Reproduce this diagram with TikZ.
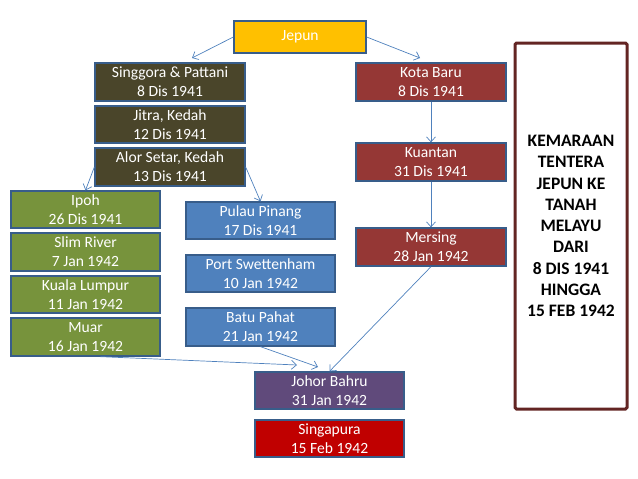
\documentclass[tikz,border=0pt]{standalone}
\usepackage{fontspec}
\setmainfont{Carlito}
\usetikzlibrary{arrows.meta}
\definecolor{cgold}{HTML}{FFC000}
\definecolor{colive}{HTML}{4A452A}
\definecolor{cred}{HTML}{953735}
\definecolor{cgreen}{HTML}{77933C}
\definecolor{cblue}{HTML}{4F81BD}
\definecolor{cpurple}{HTML}{604A7B}
\definecolor{csinga}{HTML}{C00000}
\definecolor{cborder}{HTML}{385D8A}
\definecolor{cbig}{HTML}{632523}
\definecolor{carrow}{HTML}{4F81BD}
\tikzset{
  box/.style={draw=cborder, line width=1.3pt, text=white, align=center,
    inner sep=0pt, font=\fontsize{15.6}{19}\selectfont},
  bw/.style={minimum width=150pt, minimum height=38pt},
  conn/.style={draw=carrow, line width=0.7pt, -{Straight Barb[length=5pt,width=9pt]}},
}
\begin{document}
\begin{tikzpicture}[x=1pt,y=-1pt]
\useasboundingbox (0,0) rectangle (638,479);
\node[box, fill=cgold, minimum width=132pt, minimum height=32pt] (jepun) at (300,37) {Jepun};
\node[box, bw, fill=colive] (sing) at (170,82) {Singgora \& Pattani\\8 Dis 1941};
\node[box, bw, fill=colive, minimum height=37pt] (jitra) at (170,124.5) {Jitra, Kedah\\12 Dis 1941};
\node[box, bw, fill=colive] (alor) at (170,167) {Alor Setar, Kedah\\13 Dis 1941};
\node[box, bw, fill=cred] (kota) at (431,82) {Kota Baru\\8 Dis 1941};
\node[box, bw, fill=cred] (kuantan) at (431,162) {Kuantan\\31 Dis 1941};
\node[box, bw, fill=cred] (mersing) at (431,247) {Mersing\\28 Jan 1942};
\node[box, bw, fill=cgreen, minimum width=149pt, minimum height=37pt] (ipoh) at (85.5,209.5) {Ipoh\\26 Dis 1941};
\node[box, bw, fill=cgreen, minimum width=149pt] (slim) at (85.5,252) {Slim River\\7 Jan 1942};
\node[box, bw, fill=cgreen, minimum width=149pt, minimum height=37pt] (kl) at (85.5,294.5) {Kuala Lumpur\\11 Jan 1942};
\node[box, bw, fill=cgreen, minimum width=149pt] (muar) at (85.5,337) {Muar\\16 Jan 1942};
\node[box, bw, fill=cblue, minimum width=149pt, minimum height=37pt] (pinang) at (260.5,220.5) {Pulau Pinang\\17 Dis 1941};
\node[box, bw, fill=cblue, minimum width=149pt, minimum height=37pt] (port) at (260.5,273.5) {Port Swettenham\\10 Jan 1942};
\node[box, bw, fill=cblue, minimum width=149pt] (batu) at (260.5,327) {Batu Pahat\\21 Jan 1942};
\node[box, bw, fill=cpurple, minimum width=149pt, minimum height=37pt] (johor) at (329.5,390.5) {Johor Bahru\\31 Jan 1942};
\node[box, bw, fill=csinga, minimum width=149pt, minimum height=37pt] (singa) at (329.5,438.5) {Singapura\\15 Feb 1942};
\node[draw=cbig, line width=3pt, rounded corners=1.5pt, minimum width=112pt, minimum height=366pt,
  align=center, inner sep=0pt, font=\bfseries\fontsize{17.5}{21.3}\selectfont] (big) at (571,226)
  {KEMARAAN\\TENTERA\\JEPUN KE\\TANAH\\MELAYU\\DARI\\8 DIS 1941\\HINGGA\\15 FEB 1942};
\coordinate (e1) at (192,58);
\coordinate (e2) at (420,58);
\coordinate (e7) at (297,365);
\coordinate (e8) at (318,367);
\draw[conn] (jepun.west) -- (e1);
\draw[conn] (jepun.east) -- (e2);
\draw[conn] (kota.south) -- (kuantan.north);
\draw[conn] (kuantan.south) -- (mersing.north);
\draw[conn] (alor.west) -- (ipoh.north);
\draw[conn] (alor.east) -- (pinang.north);
\draw[conn] ([xshift=15pt]muar.south) -- (e7);
\draw[conn] (batu.south) -- (e8);
\draw[conn] (mersing.south) -- (johor.north);
\end{tikzpicture}
\end{document}
